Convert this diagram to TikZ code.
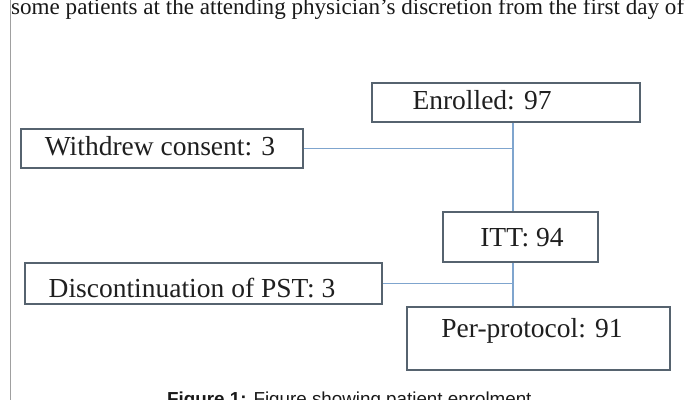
\documentclass[tikz,border=0pt]{standalone}
\usepackage{fontspec}
\setmainfont{Liberation Serif}
\newfontfamily\capfont{Liberation Sans}
\definecolor{boxline}{HTML}{56636F}
\definecolor{connline}{HTML}{7FA5CE}
\definecolor{pageline}{HTML}{A0A0A0}
\begin{document}
\begin{tikzpicture}[x=1pt,y=-1pt,
  box/.style={draw=boxline, line width=1.3pt, fill=white, inner sep=0pt},
  txt/.style={anchor=base, inner sep=0pt, font=\fontsize{27.5}{30}\selectfont, text=black!88},
  conn/.style={draw=connline, line width=1.5pt}]
\clip (0,0) rectangle (685,399);
\useasboundingbox (0,0) rectangle (685,399);
\fill[white] (0,0) rectangle (685,399);
% page edge
\draw[pageline, line width=1pt] (10.5,-2) -- (10.5,401);
% running text (cut)
\node[anchor=base west, inner sep=0pt, font=\fontsize{23.1}{25}\selectfont, text=black!90] (toptext) at (11,14.5) {some patients at the attending physician’s discretion from the first day of};
% boxes
\node[box, minimum width=268pt, minimum height=39pt] (enr) at (506,102.5) {};
\node[txt] (enrt) at (482,109) {Enrolled: 97};
\node[box, minimum width=282pt, minimum height=39pt] (wd) at (162,148.5) {};
\node[txt] (wdt) at (160,155) {Withdrew consent: 3};
\node[box, minimum width=155pt, minimum height=50pt] (itt) at (520.5,237) {};
\node[txt] (ittt) at (522,246) {ITT: 94};
\node[box, minimum width=357pt, minimum height=41pt] (dis) at (203.5,283.5) {};
\node[txt] (dist) at (192,297) {Discontinuation of PST: 3};
\node[box, minimum width=263pt, minimum height=63pt] (pp) at (538.5,338.5) {};
\node[txt] (ppt) at (532,337) {Per-protocol: 91};
% connectors
\coordinate (j1) at (513,148.5);
\coordinate (j2) at (513,283.5);
\draw[conn] (enr.south -| j1) -- (itt.north -| j1);
\draw[conn] (wd.east) -- (j1);
\draw[conn] (itt.south -| j2) -- (pp.north -| j2);
\draw[conn] (dis.east) -- (j2);
% caption (cut)
\node[anchor=base west, inner sep=0pt, font=\capfont\fontsize{18.8}{20}\selectfont, text=black!90] (cap) at (167,405.5) {\textbf{Figure 1:} Figure showing patient enrolment};
\end{tikzpicture}
\end{document}
